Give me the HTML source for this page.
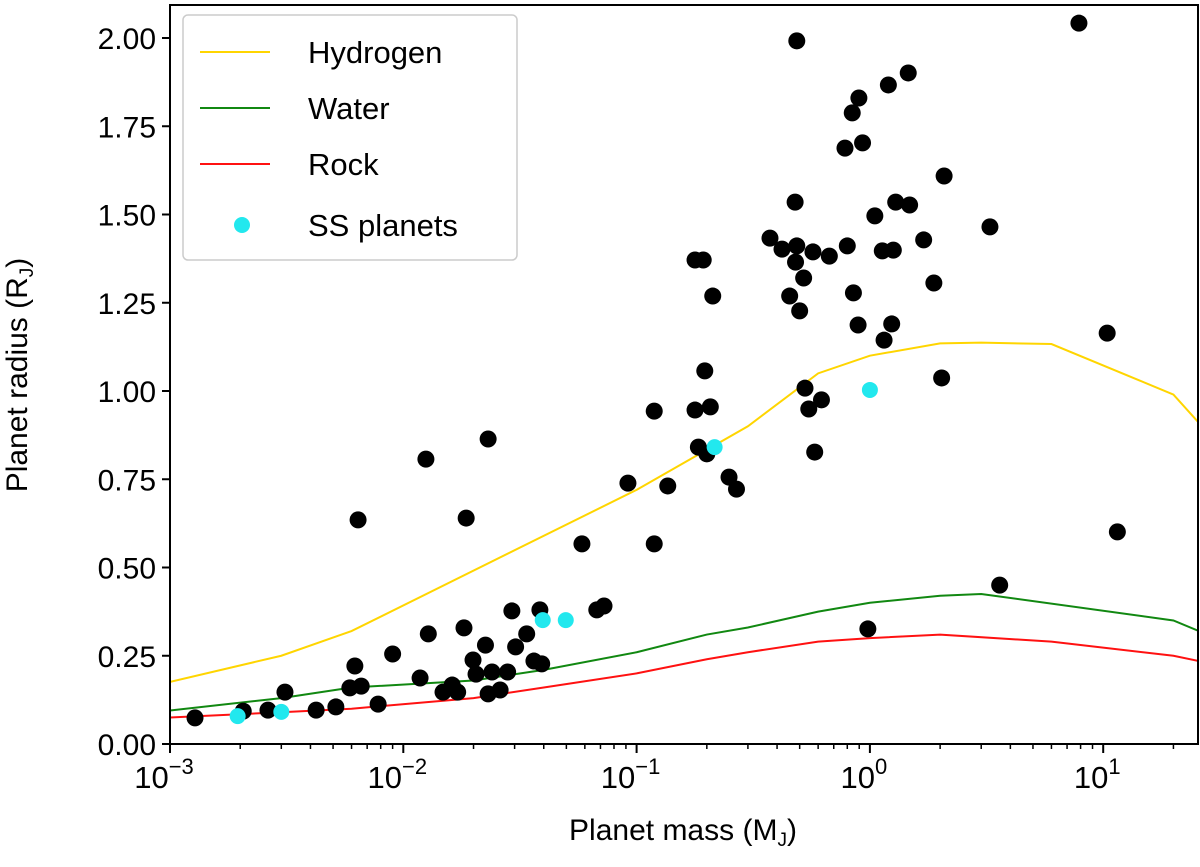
<!DOCTYPE html>
<html><head><meta charset="utf-8"><style>
body{margin:0;background:#fff;}
svg text{font-family:"Liberation Sans",sans-serif;fill:#000;}
</style></head><body>
<svg id="chart" width="1200" height="862" xmlns="http://www.w3.org/2000/svg"></svg>
<script>
const planetMass=[0.00128,0.00206,0.00263,0.00311,0.00423,0.00514,0.0064,0.0062,0.0059,0.0066,0.0078,0.009,0.0118,0.0128,0.0125,0.0148,0.0162,0.0182,0.0186,0.0199,0.0205,0.0171,0.0231,0.0225,0.0231,0.024,0.026,0.028,0.0292,0.0303,0.0338,0.0363,0.0392,0.0385,0.0583,0.0675,0.0725,0.0918,0.119,0.119,0.136,0.178,0.178,0.193,0.207,0.212,0.196,0.184,0.2,0.249,0.268,0.527,0.547,0.62,0.58,0.486,0.478,0.48,0.486,0.5,0.52,0.453,0.373,0.42,0.57,0.67,0.782,0.84,0.897,0.93,0.8,0.85,0.89,1.05,1.2,1.13,1.26,1.15,1.24,1.29,1.46,1.48,2.08,2.03,1.7,1.88,3.27,3.6,0.98,7.87,10.4,11.5];
const planetRadius=[0.074,0.093,0.096,0.147,0.096,0.105,0.635,0.221,0.159,0.164,0.113,0.255,0.187,0.312,0.807,0.147,0.167,0.329,0.64,0.238,0.198,0.147,0.864,0.28,0.142,0.204,0.153,0.204,0.377,0.275,0.312,0.235,0.227,0.38,0.567,0.38,0.391,0.739,0.567,0.943,0.731,0.946,1.371,1.371,0.955,1.269,1.057,0.841,0.822,0.756,0.722,1.008,0.949,0.975,0.827,1.992,1.535,1.365,1.411,1.227,1.32,1.269,1.433,1.402,1.394,1.382,1.688,1.788,1.83,1.703,1.411,1.278,1.187,1.496,1.867,1.397,1.399,1.144,1.19,1.535,1.901,1.527,1.609,1.037,1.428,1.306,1.465,0.45,0.326,2.042,1.164,0.601];
const ssMass=[0.00195,0.003,0.0396,0.0497,0.216,1.0];
const ssRadius=[0.079,0.091,0.351,0.351,0.841,1.003];
const hMass=[0.001,0.003,0.006,0.1,0.3,0.6,1,2,3,6,20,25.7];
const hRadius=[0.176,0.25,0.32,0.72,0.9,1.05,1.1,1.135,1.137,1.133,0.99,0.91];
const wMass=[0.001,0.003,0.006,0.02,0.04,0.1,0.2,0.3,0.6,1,2,3,20,25.7];
const wRadius=[0.095,0.13,0.16,0.18,0.21,0.26,0.31,0.33,0.375,0.40,0.42,0.425,0.35,0.32];
const rMass=[0.001,0.003,0.006,0.02,0.04,0.1,0.2,0.3,0.6,1,2,6,20,25.7];
const rRadius=[0.075,0.09,0.10,0.13,0.16,0.20,0.24,0.26,0.29,0.30,0.31,0.29,0.25,0.235];
const yTicks=[0,0.25,0.5,0.75,1,1.25,1.5,1.75,2];
const yTickLabels=["0.00","0.25","0.50","0.75","1.00","1.25","1.50","1.75","2.00"];
const xDecades=[-3,-2,-1,0,1];

const L=170,R=1198,T=5,B=744;
const xs=m=>L+233.3*(Math.log10(m)+3);
const ys=r=>B-353*r;
const svg=document.getElementById('chart');
const NS='http://www.w3.org/2000/svg';
function mk(tag,attrs,parent){const e=document.createElementNS(NS,tag);for(const k in attrs)e.setAttribute(k,attrs[k]);(parent||svg).appendChild(e);return e;}

const clip=mk('clipPath',{id:'pc'});mk('rect',{x:L,y:T,width:R-L,height:B-T},clip);
const lines=mk('g',{'clip-path':'url(#pc)'});


function curve(ms,rs,col,name){const p=mk('polyline',{points:ms.map((m,i)=>xs(m)+','+ys(rs[i])).join(' '),fill:'none',stroke:col,'stroke-width':2},lines);

}
curve(hMass,hRadius,'#ffd500','hydrogen-line');
curve(wMass,wRadius,'#118811','water-line');
curve(rMass,rRadius,'#ff1111','rock-line');

const pts=mk('g',{'clip-path':'url(#pc)'});


planetMass.forEach((m,i)=>{const c=mk('circle',{cx:xs(m),cy:ys(planetRadius[i]),r:8.5,fill:'#000'},pts);

});
ssMass.forEach((m,i)=>{const c=mk('circle',{cx:xs(m),cy:ys(ssRadius[i]),r:8,fill:'#22e8ee'},pts);

});

const frame=mk('rect',{x:L,y:T,width:R-L,height:B-T,fill:'none',stroke:'#000','stroke-width':2});



yTicks.forEach((v,i)=>{const y=ys(v);mk('line',{x1:L-8,x2:L,y1:y,y2:y,stroke:'#000','stroke-width':2});
const t=mk('text',{x:L-14,y:y+11,'font-size':30,'text-anchor':'end'});t.textContent=yTickLabels[i];

});

xDecades.forEach(d=>{const x=xs(Math.pow(10,d));mk('line',{x1:x,x2:x,y1:B,y2:B+9,stroke:'#000','stroke-width':2});
const t=mk('text',{x:x-6,y:B+44,'font-size':31,'text-anchor':'middle'});t.innerHTML='10<tspan dy="-14" font-size="22">'+(d<0?'\u2212'+(-d):d)+'</tspan>';


for(let k=2;k<10;k++){const xm=xs(k*Math.pow(10,d));if(xm<R)mk('line',{x1:xm,x2:xm,y1:B,y2:B+5,stroke:'#000','stroke-width':1.5});}});

const xt=mk('text',{x:683,y:840,'font-size':30,'text-anchor':'middle'});xt.innerHTML='Planet mass (M<tspan font-size="19" dy="6">J</tspan><tspan dy="-6">)</tspan>';


const yt=mk('text',{x:0,y:0,'font-size':30,'text-anchor':'middle',transform:'translate(27,375) rotate(-90)'});yt.innerHTML='Planet radius (R<tspan font-size="19" dy="6">J</tspan><tspan dy="-6">)</tspan>';



const lg=mk('g',{});


mk('rect',{x:183,y:15,width:334,height:245,rx:5,fill:'#fff',stroke:'#ccc','stroke-width':1.5},lg);
const entries=[['Hydrogen','#ffd500',52,'line'],['Water','#118811',108,'line'],['Rock','#ff1111',164,'line'],['SS planets','#22e8ee',225,'dot']];
entries.forEach(e=>{const g=mk('g',{},lg);


if(e[3]=='line')mk('line',{x1:200,x2:270,y1:e[2],y2:e[2],stroke:e[1],'stroke-width':2},g);else mk('circle',{cx:242,cy:e[2],r:8,fill:e[1]},g);
const t=mk('text',{x:308,y:e[2]+11,'font-size':31},g);t.textContent=e[0];});
</script>
</body></html>
